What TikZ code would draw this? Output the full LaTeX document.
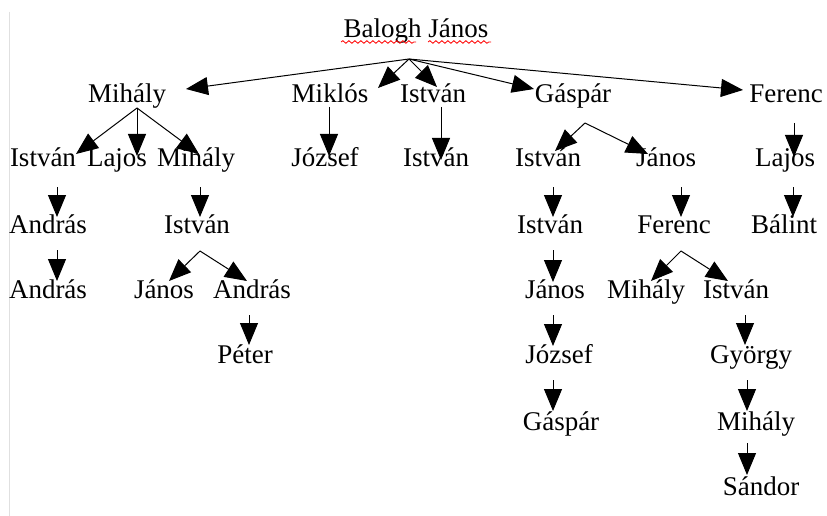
\documentclass[tikz,border=0pt]{standalone}
\usepackage{fontspec}
\setmainfont{Liberation Serif}
\usetikzlibrary{arrows.meta,decorations.pathmorphing}
\begin{document}
\begin{tikzpicture}[x=1pt,y=-1pt,
  pname/.style={anchor=base,inner sep=0pt,font=\fontsize{27}{32}\selectfont},
  arr/.style={line width=1pt,-{Triangle[width=18pt,length=22pt]}},
  squig/.style={red,line width=0.8pt,decorate,decoration={snake,amplitude=1.3pt,segment length=6pt}}]
\useasboundingbox (0,0) rectangle (827,516);
\fill[white] (0,0) rectangle (827,516);
\draw[black!12,line width=0.8pt] (9,12) -- (9,516);
% nodes
\node[pname] (r) at (416,38) {Balogh János};
\node[pname] (a1) at (127,103) {Mihály};
\node[pname] (a2) at (330,103) {Miklós};
\node[pname] (a3) at (433,103) {István};
\node[pname] (a4) at (573,103) {Gáspár};
\node[pname] (a5) at (786,103) {Ferenc};
\node[pname] (b1) at (43,167) {István};
\node[pname] (b2) at (117,167) {Lajos};
\node[pname] (b3) at (196,167) {Mihály};
\node[pname] (b4) at (325,167) {József};
\node[pname] (b5) at (436,167) {István};
\node[pname] (b6) at (548,167) {István};
\node[pname] (b7) at (666,167) {János};
\node[pname] (b8) at (785,167) {Lajos};
\node[pname] (c1) at (48,233) {András};
\node[pname] (c2) at (197,233) {István};
\node[pname] (c3) at (550,233) {István};
\node[pname] (c4) at (674,233) {Ferenc};
\node[pname] (c5) at (784,233) {Bálint};
\node[pname] (d1) at (48,298) {András};
\node[pname] (d2) at (164,298) {János};
\node[pname] (d3) at (252,298) {András};
\node[pname] (d4) at (555,298) {János};
\node[pname] (d5) at (646,298) {Mihály};
\node[pname] (d6) at (736,298) {István};
\node[pname] (e1) at (245,363) {Péter};
\node[pname] (e2) at (559,363) {József};
\node[pname] (e3) at (751,363) {György};
\node[pname] (f1) at (561,430) {Gáspár};
\node[pname] (f2) at (756,430) {Mihály};
\node[pname] (g1) at (761,495) {Sándor};
% spell-check underline
\coordinate (u1) at (341,42); \coordinate (u2) at (416,42);
\coordinate (u3) at (428,42); \coordinate (u4) at (491,42);
\draw[squig] (u1) -- (u2);
\draw[squig] (u3) -- (u4);
% forks
\coordinate (F0) at (409,59);
\coordinate (F1) at (137,108);
\coordinate (F2) at (585,123);
\coordinate (F3) at (200,251);
\coordinate (F4) at (681,251);
% tips of fork arrows
\coordinate (t-a1) at (186,89);
\coordinate (t-a2) at (378,88);
\coordinate (t-a3) at (437,87);
\coordinate (t-a4) at (534,89);
\coordinate (t-a5) at (743,90);
\coordinate (t-b1) at (76,154);
\coordinate (t-b2) at (137,156);
\coordinate (t-b3) at (199,154);
\coordinate (t-b6) at (555,151);
\coordinate (t-b7) at (648,154);
\coordinate (t-d2) at (169,281);
\coordinate (t-d3) at (247,281);
\coordinate (t-d5) at (651,281);
\coordinate (t-d6) at (728,281);
\foreach \t in {a1,a2,a3,a4,a5} \draw[arr] (F0) -- (t-\t);
\foreach \t in {b1,b2,b3} \draw[arr] (F1) -- (t-\t);
\foreach \t in {b6,b7} \draw[arr] (F2) -- (t-\t);
\foreach \t in {d2,d3} \draw[arr] (F3) -- (t-\t);
\foreach \t in {d5,d6} \draw[arr] (F4) -- (t-\t);
% vertical arrows
\coordinate (s-b4) at (329,107); \coordinate (t-b4) at (329,156);
\coordinate (s-b5) at (441,107); \coordinate (t-b5) at (441,160);
\coordinate (s-b8) at (794,123); \coordinate (t-b8) at (794,157);
\coordinate (s-c1) at (57,187);  \coordinate (t-c1) at (57,217);
\coordinate (s-c2) at (200,187); \coordinate (t-c2) at (200,217);
\coordinate (s-c3) at (553,187); \coordinate (t-c3) at (553,217);
\coordinate (s-c4) at (681,187); \coordinate (t-c4) at (681,217);
\coordinate (s-c5) at (793,187); \coordinate (t-c5) at (793,217);
\coordinate (s-d1) at (57,250);  \coordinate (t-d1) at (57,281);
\coordinate (s-d4) at (553,250); \coordinate (t-d4) at (553,282);
\coordinate (s-e1) at (249,315); \coordinate (t-e1) at (249,345);
\coordinate (s-e2) at (553,315); \coordinate (t-e2) at (553,346);
\coordinate (s-e3) at (745,315); \coordinate (t-e3) at (745,345);
\coordinate (s-f1) at (553,380); \coordinate (t-f1) at (553,411);
\coordinate (s-f2) at (747,380); \coordinate (t-f2) at (747,411);
\coordinate (s-g1) at (747,443); \coordinate (t-g1) at (747,475);
\foreach \t in {b4,b5,b8,c1,c2,c3,c4,c5,d1,d4,e1,e2,e3,f1,f2,g1} \draw[arr] (s-\t) -- (t-\t);
\end{tikzpicture}
\end{document}
